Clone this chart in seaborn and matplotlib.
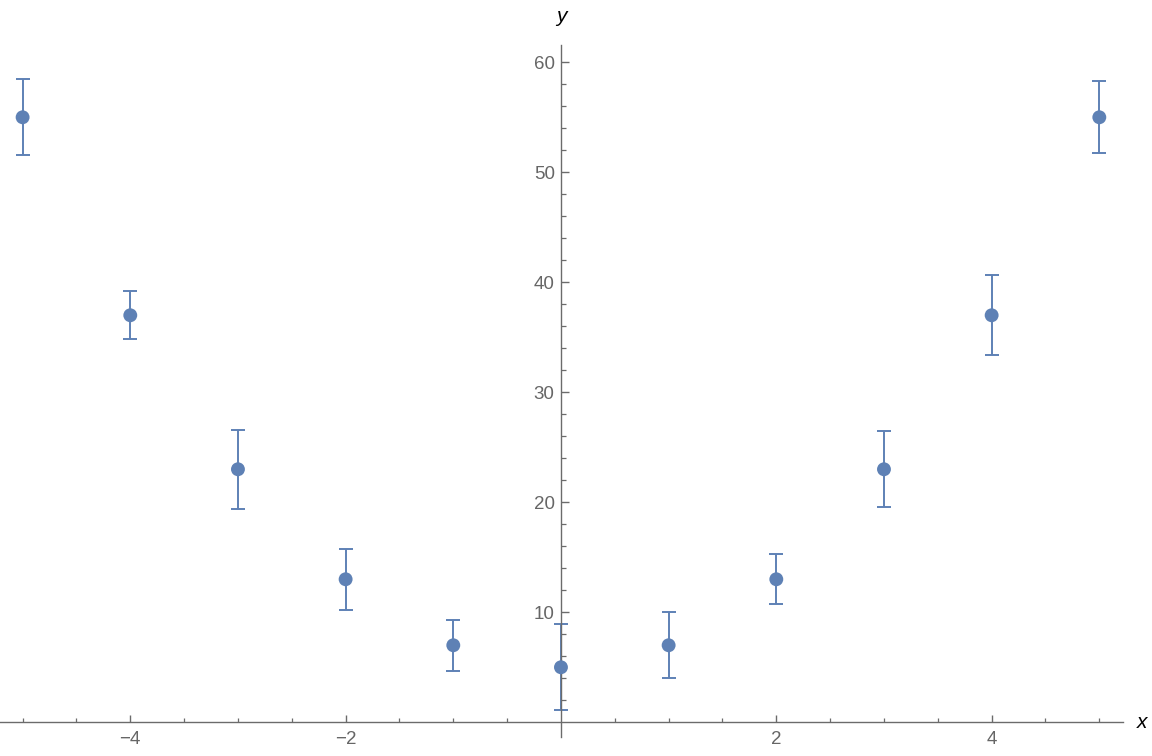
import numpy as np
import pandas as pd
import matplotlib
matplotlib.use("Agg")
import matplotlib.pyplot as plt
from matplotlib.ticker import FixedLocator
import seaborn as sns

# ---- data ----
x_vals = [-5, -4, -3, -2, -1, 0, 1, 2, 3, 4, 5]
y_vals = [55, 37, 23, 13, 7, 5, 7, 13, 23, 37, 55]
y_err = [3.45, 2.2, 3.6, 2.75, 2.3, 3.9, 3.0, 2.27, 3.45, 3.65, 3.27]

x_major = [-4, -2, 2, 4]
x_minor = [-5, -4.5, -3.5, -3, -2.5, -1.5, -1, -0.5, 0.5, 1, 1.5, 2.5, 3, 3.5, 4.5, 5]
y_major = [10, 20, 30, 40, 50, 60]
y_minor = [2, 4, 6, 8, 12, 14, 16, 18, 22, 24, 26, 28, 32, 34, 36, 38,
           42, 44, 46, 48, 52, 54, 56, 58]

df = pd.DataFrame({"x": x_vals, "y": y_vals, "err": y_err})

sns.set_theme(style="white")
plt.rcParams['font.family'] = ['Liberation Sans', 'DejaVu Sans']

point_color = "#5E81B5"
axis_color = "#6b6b6b"

fig = plt.figure(figsize=(11.52, 7.56), dpi=100)
ax = fig.add_axes([0.0, 19 / 756, 1123 / 1152, (737 - 45) / 756])

# error bars first, then the dots on top
ax.errorbar(df["x"], df["y"], yerr=df["err"], fmt="none", ecolor=point_color,
            elinewidth=1.4, capsize=5, capthick=1.4, zorder=2)
sns.scatterplot(data=df, x="x", y="y", ax=ax, color=point_color, s=100,
                edgecolor="none", zorder=3, legend=False)

ax.set_xlim(-5.21, 5.22)
ax.set_ylim(-1.34, 61.57)

# axes crossing at the origin
for side in ["top", "right"]:
    ax.spines[side].set_visible(False)
ax.spines["left"].set_position(("data", 0))
ax.spines["bottom"].set_position(("data", 0))
for side in ["left", "bottom"]:
    ax.spines[side].set_color(axis_color)
    ax.spines[side].set_linewidth(1.0)

ax.xaxis.set_major_locator(FixedLocator(x_major))
ax.xaxis.set_minor_locator(FixedLocator(x_minor))
ax.yaxis.set_major_locator(FixedLocator(y_major))
ax.yaxis.set_minor_locator(FixedLocator(y_minor))
ax.set_xticklabels(["\u22124", "\u22122", "2", "4"])
ax.set_yticklabels([str(v) for v in y_major])

ax.tick_params(axis="x", which="major", direction="in", length=5.4, width=1.0,
               color=axis_color, labelcolor="#666666", labelsize=13.5, pad=6,
               bottom=True)
ax.tick_params(axis="x", which="minor", direction="in", length=2.8, width=0.9,
               color=axis_color, bottom=True)
ax.tick_params(axis="y", which="major", direction="in", length=5.4, width=1.0,
               color=axis_color, labelcolor="#666666", labelsize=13.5, pad=4.5,
               left=True)
ax.tick_params(axis="y", which="minor", direction="in", length=3.6, width=0.9,
               color=axis_color, left=True)

ax.set_xlabel("")
ax.set_ylabel("")
ax.grid(False)

fig.text(561 / 1152, 1 - 16 / 756, "y", ha="center", va="center",
         fontsize=15, style="italic", color="black")
fig.text(1142 / 1152, 1 - 722 / 756, "x", ha="center", va="center",
         fontsize=15, style="italic", color="black")

fig.savefig("out.png", dpi=100)
